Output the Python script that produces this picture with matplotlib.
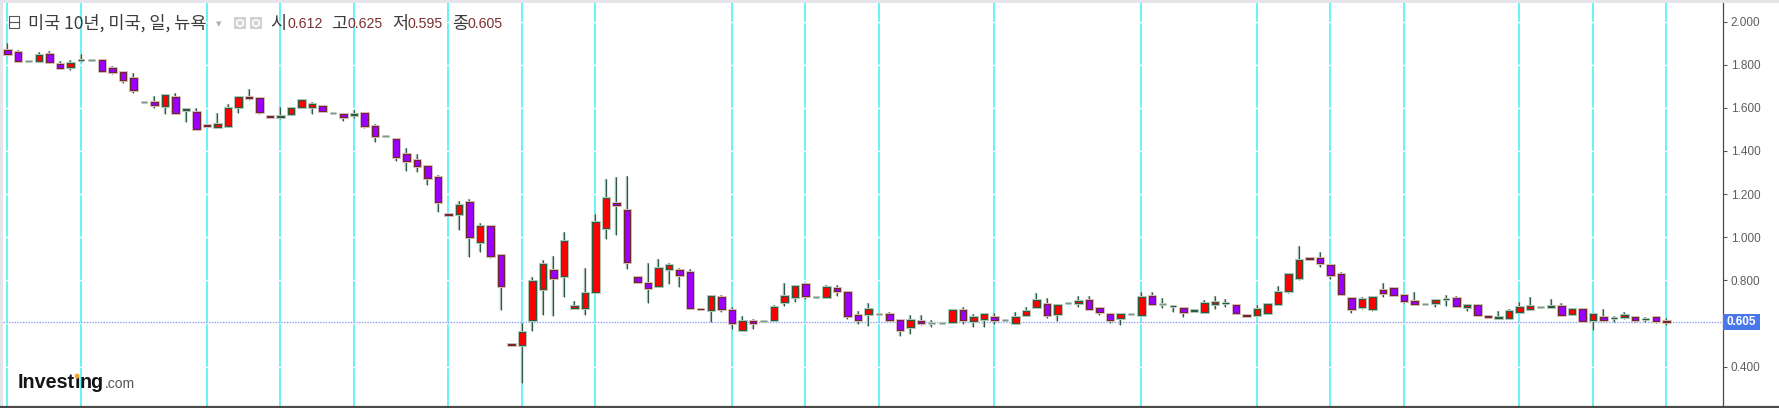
import matplotlib
matplotlib.use('Agg')
import matplotlib.pyplot as plt
from matplotlib.patches import Rectangle, Circle
from matplotlib.lines import Line2D
import matplotlib.transforms as mtransforms

# ---------------- data ----------------
opens = [1.868, 1.859, 1.819, 1.817, 1.848, 1.805, 1.789, 1.822, 1.822, 1.823,
         1.783, 1.765, 1.738, 1.627, 1.627, 1.608, 1.649, 1.590, 1.582, 1.519,
         1.510, 1.517, 1.602, 1.649, 1.644, 1.561, 1.558, 1.571, 1.602, 1.604,
         1.608, 1.578, 1.571, 1.569, 1.578, 1.516, 1.471, 1.454, 1.386, 1.360,
         1.330, 1.281, 1.107, 1.106, 1.165, 0.979, 1.052, 0.919, 0.505, 0.500,
         0.616, 0.758, 0.848, 0.822, 0.670, 0.670, 0.744, 1.043, 1.160, 1.125,
         0.817, 0.789, 0.775, 0.852, 0.848, 0.840, 0.667, 0.664, 0.724, 0.662,
         0.571, 0.613, 0.613, 0.614, 0.698, 0.721, 0.781, 0.724, 0.724, 0.763,
         0.744, 0.638, 0.642, 0.642, 0.642, 0.616, 0.582, 0.613, 0.604, 0.604,
         0.607, 0.664, 0.610, 0.621, 0.628, 0.616, 0.604, 0.637, 0.678, 0.689,
         0.642, 0.693, 0.693, 0.709, 0.670, 0.642, 0.625, 0.642, 0.639, 0.727,
         0.690, 0.681, 0.670, 0.660, 0.655, 0.688, 0.695, 0.685, 0.638, 0.638,
         0.647, 0.690, 0.752, 0.809, 0.903, 0.902, 0.871, 0.828, 0.720, 0.678,
         0.665, 0.755, 0.763, 0.732, 0.706, 0.692, 0.696, 0.712, 0.719, 0.675,
         0.685, 0.633, 0.627, 0.624, 0.655, 0.667, 0.675, 0.677, 0.681, 0.644,
         0.665, 0.616, 0.631, 0.623, 0.631, 0.628, 0.619, 0.628, 0.612]

highs = [1.899, 1.867, 1.819, 1.857, 1.864, 1.819, 1.822, 1.850, 1.822, 1.823,
         1.794, 1.765, 1.762, 1.627, 1.653, 1.663, 1.667, 1.594, 1.601, 1.519,
         1.575, 1.618, 1.656, 1.686, 1.650, 1.561, 1.602, 1.604, 1.636, 1.626,
         1.613, 1.578, 1.578, 1.590, 1.582, 1.524, 1.471, 1.454, 1.412, 1.384,
         1.333, 1.290, 1.107, 1.169, 1.176, 1.064, 1.052, 0.919, 0.505, 0.604,
         0.814, 0.894, 0.913, 1.023, 0.703, 0.859, 1.108, 1.268, 1.281, 1.284,
         0.817, 0.880, 0.897, 0.879, 0.856, 0.853, 0.667, 0.734, 0.732, 0.675,
         0.634, 0.621, 0.613, 0.685, 0.788, 0.780, 0.786, 0.724, 0.778, 0.778,
         0.744, 0.658, 0.693, 0.642, 0.651, 0.622, 0.638, 0.639, 0.616, 0.604,
         0.664, 0.675, 0.642, 0.650, 0.647, 0.616, 0.653, 0.678, 0.743, 0.719,
         0.690, 0.693, 0.727, 0.727, 0.675, 0.642, 0.647, 0.642, 0.747, 0.747,
         0.720, 0.682, 0.670, 0.662, 0.709, 0.727, 0.712, 0.689, 0.638, 0.685,
         0.689, 0.774, 0.828, 0.961, 0.903, 0.933, 0.871, 0.837, 0.720, 0.721,
         0.721, 0.789, 0.766, 0.732, 0.747, 0.692, 0.709, 0.732, 0.727, 0.686,
         0.689, 0.633, 0.656, 0.667, 0.701, 0.724, 0.675, 0.712, 0.693, 0.673,
         0.665, 0.644, 0.665, 0.634, 0.655, 0.628, 0.628, 0.628, 0.625]

lows = [1.851, 1.817, 1.819, 1.817, 1.811, 1.780, 1.775, 1.812, 1.822, 1.768,
        1.758, 1.714, 1.670, 1.627, 1.598, 1.571, 1.578, 1.536, 1.502, 1.516,
        1.510, 1.517, 1.578, 1.635, 1.571, 1.558, 1.547, 1.571, 1.598, 1.570,
        1.579, 1.578, 1.541, 1.551, 1.508, 1.443, 1.471, 1.355, 1.309, 1.304,
        1.242, 1.118, 1.104, 1.034, 0.910, 0.933, 0.902, 0.662, 0.502, 0.322,
        0.566, 0.641, 0.636, 0.724, 0.670, 0.638, 0.744, 0.992, 1.010, 0.851,
        0.794, 0.695, 0.775, 0.785, 0.771, 0.673, 0.665, 0.605, 0.655, 0.576,
        0.571, 0.573, 0.613, 0.614, 0.682, 0.698, 0.713, 0.724, 0.724, 0.729,
        0.619, 0.597, 0.588, 0.642, 0.616, 0.543, 0.549, 0.593, 0.583, 0.604,
        0.607, 0.596, 0.585, 0.585, 0.597, 0.616, 0.597, 0.637, 0.675, 0.624,
        0.611, 0.693, 0.675, 0.665, 0.639, 0.604, 0.593, 0.642, 0.639, 0.690,
        0.673, 0.655, 0.628, 0.660, 0.655, 0.665, 0.675, 0.644, 0.636, 0.636,
        0.647, 0.690, 0.740, 0.801, 0.901, 0.863, 0.805, 0.737, 0.650, 0.669,
        0.658, 0.724, 0.730, 0.693, 0.690, 0.692, 0.678, 0.682, 0.679, 0.659,
        0.637, 0.631, 0.627, 0.624, 0.655, 0.667, 0.675, 0.677, 0.638, 0.644,
        0.610, 0.570, 0.616, 0.607, 0.621, 0.605, 0.608, 0.604, 0.595]

closes = [1.851, 1.817, 1.819, 1.845, 1.811, 1.786, 1.809, 1.823, 1.822, 1.772,
          1.768, 1.728, 1.683, 1.627, 1.612, 1.658, 1.578, 1.594, 1.502, 1.516,
          1.523, 1.601, 1.649, 1.646, 1.579, 1.558, 1.560, 1.601, 1.636, 1.618,
          1.587, 1.578, 1.559, 1.571, 1.516, 1.471, 1.471, 1.370, 1.353, 1.332,
          1.273, 1.163, 1.104, 1.149, 0.999, 1.052, 0.914, 0.772, 0.502, 0.559,
          0.798, 0.874, 0.812, 0.981, 0.679, 0.743, 1.069, 1.182, 1.149, 0.883,
          0.794, 0.763, 0.856, 0.871, 0.825, 0.673, 0.665, 0.727, 0.668, 0.604,
          0.613, 0.600, 0.613, 0.678, 0.729, 0.775, 0.729, 0.724, 0.767, 0.750,
          0.633, 0.616, 0.668, 0.642, 0.616, 0.570, 0.616, 0.604, 0.604, 0.604,
          0.664, 0.616, 0.628, 0.642, 0.616, 0.616, 0.630, 0.659, 0.709, 0.637,
          0.684, 0.693, 0.706, 0.665, 0.651, 0.616, 0.642, 0.642, 0.724, 0.690,
          0.690, 0.682, 0.655, 0.662, 0.696, 0.698, 0.697, 0.650, 0.636, 0.665,
          0.689, 0.747, 0.828, 0.894, 0.901, 0.879, 0.823, 0.737, 0.665, 0.712,
          0.721, 0.740, 0.730, 0.704, 0.690, 0.692, 0.709, 0.714, 0.679, 0.686,
          0.637, 0.631, 0.629, 0.658, 0.675, 0.681, 0.675, 0.679, 0.638, 0.665,
          0.610, 0.644, 0.616, 0.625, 0.639, 0.616, 0.621, 0.613, 0.605]

week_marks = [0, 7, 19, 26, 33, 42, 49, 56, 69, 76, 83, 94, 108, 119, 126,
              133, 144, 151, 158]
tick_values = [0.4, 0.8, 1.0, 1.2, 1.4, 1.6, 1.8, 2.0]
title_text = "미국 10년, 미국, 일, 뉴욕"
ohlc_names = ["시", "고", "저", "종"]
brand_main = "Investing"
brand_tail = ".com"

# ---------------- layout ----------------
W, H = 1779, 408
fig = plt.figure(figsize=(W / 100, H / 100), dpi=100)
fig.patch.set_facecolor('white')
ax = fig.add_axes([3 / W, 2 / H, (1723 - 3) / W, 403 / H])
ax.set_facecolor('white')
ax.set_xlim(-0.41, 163.4)
ax.set_ylim(0.2171, 2.0863)

PX = 0.72  # one pixel in points

# cyan week lines
for m in week_marks:
    ax.axvline(m, color='#3ff0f6', lw=1.1, zorder=1)
# white horizontal grid
for v in tick_values + [0.6]:
    ax.axhline(v, color='white', lw=1.0, zorder=1.5)

# last-price dotted line
last_close = closes[-1]
ax.axhline(last_close, color='#8ea2ef', lw=1.0, ls=(0, (1, 1)), zorder=2)

RED = '#ff0000'
PURPLE = '#9a00ff'
RED_EDGE = '#2c5a3c'
PUR_EDGE = '#6e2828'
WICK = '#2f5c46'
bw = 0.62

for i, (o, h, l, c) in enumerate(zip(opens, highs, lows, closes)):
    if h > l:
        ax.vlines(i, l, h, color='#a9bdb1', lw=2.4 * PX, zorder=3)
        ax.vlines(i, l, h, color=WICK, lw=1.1 * PX, zorder=3.5)
    if o == c:
        ax.hlines(o, i - bw / 2, i + bw / 2, color='#c4d2ca', lw=3 * PX, zorder=4)
        ax.hlines(o, i - bw / 2, i + bw / 2, color='#7f9a8b', lw=1.3 * PX, zorder=4.5)
        continue
    up = c > o
    y0 = min(o, c)
    hgt = abs(c - o)
    face = RED if up else PURPLE
    edge = RED_EDGE if up else PUR_EDGE
    halo = '#b8cbbf' if up else '#d9c2c2'
    ax.add_patch(Rectangle((i - bw / 2, y0), bw, hgt, facecolor='none',
                           edgecolor=halo, lw=3.0 * PX, zorder=4))
    ax.add_patch(Rectangle((i - bw / 2, y0), bw, hgt, facecolor=face,
                           edgecolor=edge, lw=1.1 * PX, zorder=5))

# axes styling
for s in ['left', 'top', 'bottom']:
    ax.spines[s].set_visible(False)
ax.spines['right'].set_color('#4a4a4a')
ax.spines['right'].set_linewidth(0.9)
ax.set_xticks([])
ax.yaxis.tick_right()
ax.set_yticks(tick_values)
ax.set_yticklabels([f'{v:.3f}' for v in tick_values])
ax.tick_params(axis='y', length=3, width=0.8, color='#555555', labelsize=8.5,
               labelcolor='#5e5e5e', pad=2.5)
for lab in ax.get_yticklabels():
    lab.set_fontfamily('Liberation Sans')

# last price label box
trans = mtransforms.blended_transform_factory(ax.transAxes, ax.transData)
box_w = 37 / 1720
box_h = 16 / 215.6
ax.add_patch(Rectangle((1.0, last_close - box_h / 2), box_w, box_h, transform=trans,
                       facecolor='#4a78ea', edgecolor='none', clip_on=False, zorder=10))
ax.text(1.0 + box_w / 2, last_close, f'{last_close:.3f}', transform=trans,
        ha='center', va='center', color='white', fontweight='bold', fontsize=8.5,
        fontfamily='Liberation Sans', clip_on=False, zorder=11)

# frame strips
fig.add_artist(Rectangle((0, 405 / H), 1, 3 / H, transform=fig.transFigure,
                         facecolor='#e4e4e9', edgecolor='none', zorder=20))
fig.add_artist(Rectangle((0, 0), 3 / W, 1, transform=fig.transFigure,
                         facecolor='#e4e4e9', edgecolor='none', zorder=20))
fig.add_artist(Line2D([0, 1], [1.2 / H, 1.2 / H], transform=fig.transFigure,
                      color='#4a4a4a', lw=1.6, zorder=20))


def fx(x):
    return x / W


def fy(y):
    return 1 - y / H


# header
fig.add_artist(Rectangle((fx(9), fy(28)), 10 / W, 12 / H, transform=fig.transFigure,
                         facecolor='white', edgecolor='#555555', lw=0.8, zorder=21))
fig.add_artist(Line2D([fx(9), fx(19)], [fy(22), fy(22)], transform=fig.transFigure,
                      color='#555555', lw=0.8, zorder=21))
fig.text(fx(28), fy(29), title_text, fontsize=12.6, color='#3c3c3c',
         fontfamily=['Noto Sans CJK KR', 'DejaVu Sans'], va='baseline', zorder=21)
fig.text(fx(216), fy(27), '▾', fontsize=8, color='#b0b0b0',
         fontfamily='DejaVu Sans', va='baseline', zorder=21)
for x0 in (234, 250):
    fig.add_artist(Rectangle((fx(x0), fy(29)), 12 / W, 12 / H, transform=fig.transFigure,
                             facecolor='#d2d2d2', edgecolor='none', zorder=21))
    fig.add_artist(Circle((x0 + 6, H - 23), 3.2, transform=mtransforms.IdentityTransform(),
                          facecolor='none', edgecolor='white', lw=1.2, zorder=22))

vals = [opens[-1], highs[-1], lows[-1], closes[-1]]
name_x = [270, 331, 392, 452]
num_x = [287, 348, 407, 468]
for nm, v, xn, xv in zip(ohlc_names, vals, name_x, num_x):
    fig.text(fx(xn), fy(29), nm, fontsize=12.6, color='#3c3c3c',
             fontfamily=['Noto Sans CJK KR', 'DejaVu Sans'], va='baseline', zorder=21)
    fig.text(fx(xv), fy(28.5), f'{v:.3f}', fontsize=10.2, color='#7a3030',
             fontfamily='Liberation Sans', va='baseline', zorder=21)

# brand logo
renderer = fig.canvas.get_renderer()
bx = 17.3
base = 388.5
fs_brand = 14.2
t1 = fig.text(fx(bx), fy(base), brand_main[:6], fontsize=fs_brand, fontweight='bold',
              color='#151515', fontfamily='Liberation Sans', va='baseline', zorder=21)
e1 = t1.get_window_extent(renderer)
t2 = fig.text(e1.x1 / W, fy(base), 'ı', fontsize=fs_brand, fontweight='bold',
              color='#151515', fontfamily='Liberation Sans', va='baseline', zorder=21)
e2 = t2.get_window_extent(renderer)
t3 = fig.text(e2.x1 / W, fy(base), brand_main[7:], fontsize=fs_brand, fontweight='bold',
              color='#151515', fontfamily='Liberation Sans', va='baseline', zorder=21)
e3 = t3.get_window_extent(renderer)
fig.add_artist(Circle(((e2.x0 + e2.x1) / 2, H - 376), 2.5,
                      transform=mtransforms.IdentityTransform(),
                      facecolor='#f5a623', edgecolor='none', zorder=22))
fig.text(e3.x1 / W + 1 / W, fy(base), brand_tail, fontsize=10, color='#555555',
         fontfamily='Liberation Sans', va='baseline', zorder=21)

fig.savefig('out.png', dpi=100, facecolor='white')
